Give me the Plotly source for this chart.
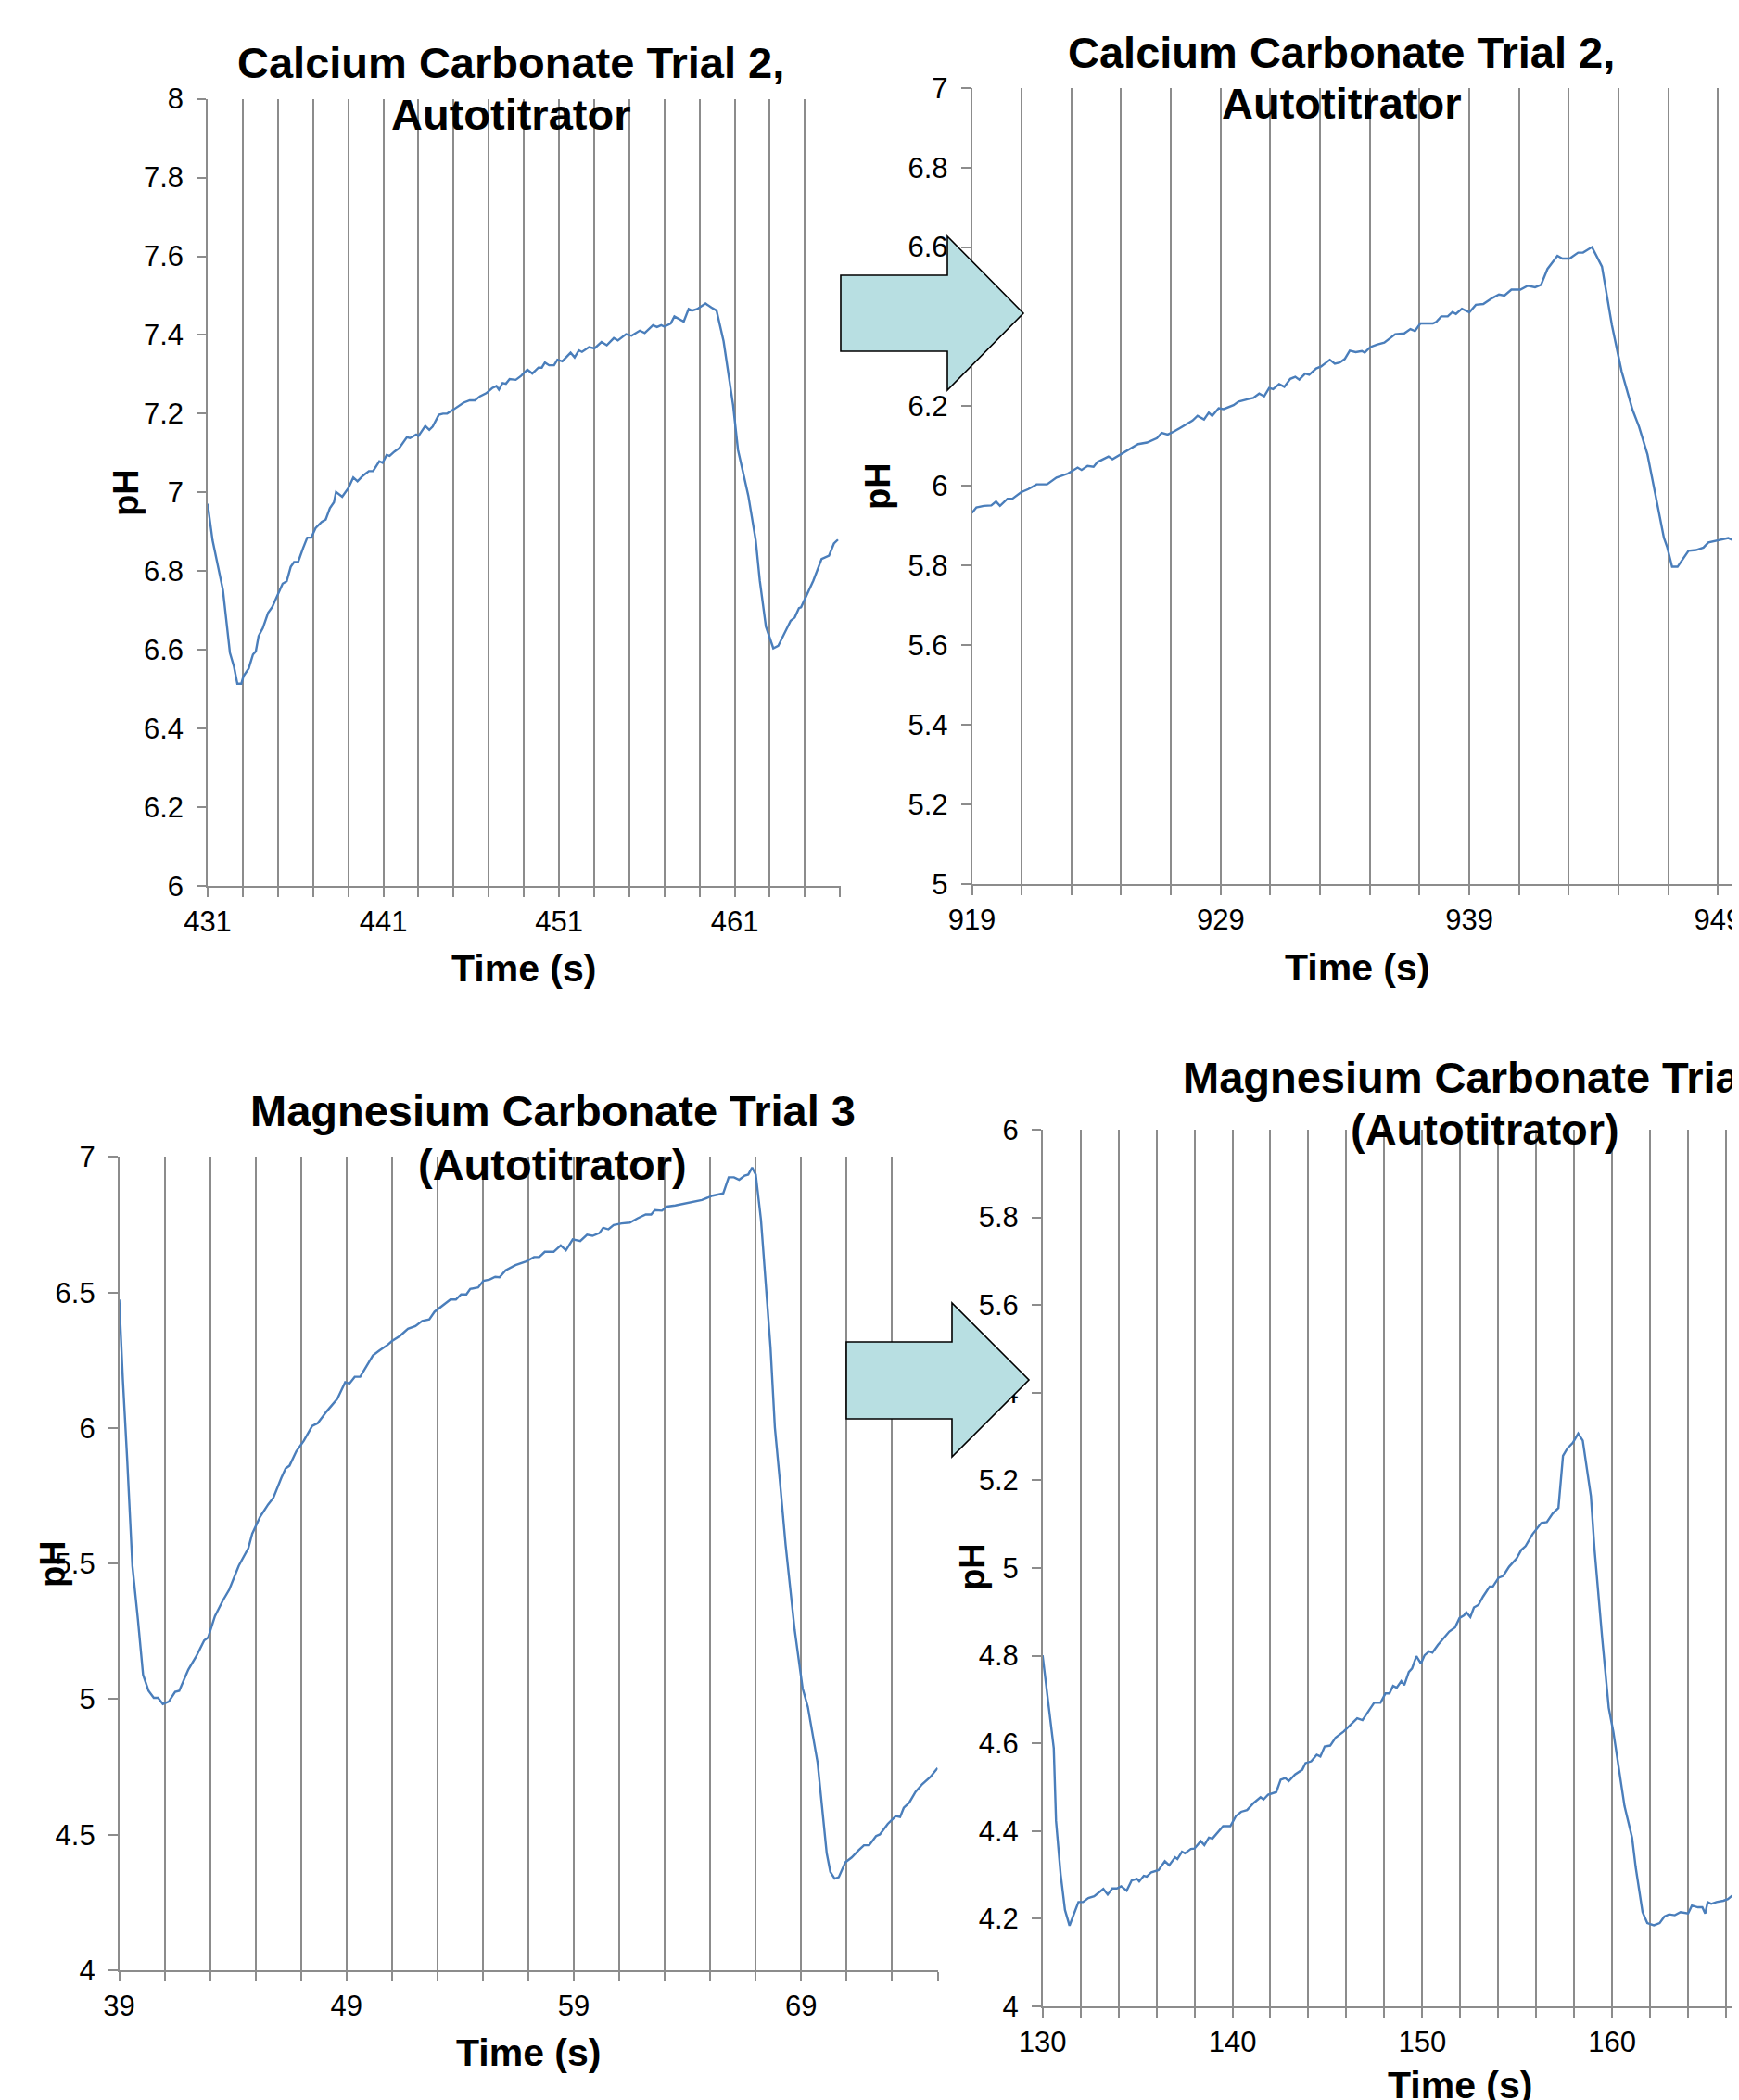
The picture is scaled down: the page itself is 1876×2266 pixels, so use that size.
import plotly.graph_objects as go

# the page body adds an 8 px margin, so the figure is drawn 8 px smaller and
# every reference-pixel position is shifted by that offset
OFFSET = 8
W, H = 1876 - OFFSET, 2266 - OFFSET

# ---------------- data (time s, pH) ----------------
ca_trial2_early = [
    (431, 6.971), (431.28, 6.878), (431.87, 6.752), (432.27, 6.592), (432.5, 6.557), (432.69, 6.514),
    (432.92, 6.514), (433.04, 6.533), (433.34, 6.553), (433.58, 6.588), (433.74, 6.596), (433.9, 6.635),
    (434.14, 6.655), (434.44, 6.694), (434.68, 6.709), (435.03, 6.745), (435.27, 6.768), (435.5, 6.774),
    (435.73, 6.811), (435.92, 6.823), (436.15, 6.823), (436.43, 6.858), (436.67, 6.885), (436.9, 6.885),
    (437.14, 6.909), (437.49, 6.925), (437.72, 6.931), (437.96, 6.960), (438.19, 6.975), (438.31, 7.001),
    (438.66, 6.989), (439.01, 7.011), (439.29, 7.038), (439.53, 7.028), (439.83, 7.042), (440.18, 7.054),
    (440.42, 7.054), (440.77, 7.079), (440.96, 7.075), (441.19, 7.095), (441.36, 7.093), (441.64, 7.104),
    (441.9, 7.112), (442.34, 7.140), (442.52, 7.138), (442.87, 7.147), (443.0, 7.143), (443.39, 7.169),
    (443.62, 7.159), (443.81, 7.167), (444.16, 7.197), (444.4, 7.200), (444.63, 7.200), (444.98, 7.210),
    (445.57, 7.228), (445.92, 7.234), (446.22, 7.234), (446.5, 7.244), (446.86, 7.252), (447.2, 7.265),
    (447.44, 7.270), (447.58, 7.261), (447.79, 7.278), (447.98, 7.276), (448.19, 7.288), (448.54, 7.286),
    (448.84, 7.296), (449.2, 7.312), (449.48, 7.302), (449.83, 7.317), (450.02, 7.317), (450.2, 7.330),
    (450.44, 7.323), (450.72, 7.323), (450.91, 7.337), (451.19, 7.333), (451.66, 7.355), (451.89, 7.343),
    (452.13, 7.361), (452.31, 7.357), (452.71, 7.369), (453.02, 7.366), (453.42, 7.382), (453.72, 7.374),
    (454.12, 7.392), (454.35, 7.386), (454.82, 7.402), (455.13, 7.398), (455.6, 7.411), (455.88, 7.405),
    (456.35, 7.425), (456.58, 7.420), (456.82, 7.425), (457.0, 7.421), (457.36, 7.429), (457.57, 7.447),
    (458.1, 7.434), (458.38, 7.466), (458.57, 7.462), (458.87, 7.466), (459.34, 7.480), (459.67, 7.470),
    (459.97, 7.462), (460.37, 7.384), (460.91, 7.222), (461.19, 7.108), (461.78, 6.991), (462.2, 6.878),
    (462.43, 6.776), (462.78, 6.659), (463.2, 6.604), (463.48, 6.610), (463.84, 6.641), (464.19, 6.674),
    (464.42, 6.682), (464.66, 6.706), (464.78, 6.708), (465.13, 6.741), (465.48, 6.776), (465.95, 6.831),
    (466.37, 6.839), (466.65, 6.870), (466.88, 6.880),
]

ca_trial2_late = [
    (919, 5.932), (919.18, 5.946), (919.48, 5.950), (919.78, 5.951), (919.97, 5.961), (920.13, 5.950),
    (920.43, 5.968), (920.63, 5.968), (920.97, 5.984), (921.27, 5.992), (921.6, 6.004), (922.02, 6.004),
    (922.4, 6.021), (922.86, 6.031), (923.25, 6.046), (923.41, 6.040), (923.65, 6.050), (923.89, 6.048),
    (924.05, 6.060), (924.49, 6.074), (924.65, 6.067), (924.94, 6.078), (925.34, 6.093), (925.68, 6.105),
    (926.04, 6.109), (926.44, 6.120), (926.63, 6.133), (926.87, 6.129), (927.13, 6.137), (927.59, 6.155),
    (927.87, 6.164), (928.07, 6.176), (928.33, 6.167), (928.52, 6.184), (928.66, 6.176), (928.92, 6.195),
    (929.12, 6.193), (929.52, 6.203), (929.72, 6.212), (930.11, 6.218), (930.31, 6.221), (930.55, 6.232),
    (930.75, 6.225), (930.95, 6.246), (931.11, 6.243), (931.35, 6.256), (931.56, 6.249), (931.8, 6.269),
    (932.0, 6.274), (932.16, 6.267), (932.4, 6.282), (932.56, 6.279), (932.84, 6.295), (933.04, 6.300),
    (933.39, 6.317), (933.59, 6.307), (933.79, 6.310), (933.99, 6.319), (934.19, 6.340), (934.43, 6.336),
    (934.68, 6.339), (934.79, 6.335), (935.02, 6.349), (935.28, 6.355), (935.58, 6.360), (936.02, 6.381),
    (936.38, 6.383), (936.63, 6.394), (936.81, 6.389), (937.03, 6.408), (937.53, 6.408), (937.67, 6.412),
    (937.87, 6.426), (938.13, 6.426), (938.32, 6.437), (938.46, 6.432), (938.7, 6.445), (939.0, 6.436),
    (939.26, 6.455), (939.56, 6.457), (939.92, 6.472), (940.19, 6.481), (940.41, 6.478), (940.69, 6.493),
    (941.05, 6.493), (941.35, 6.503), (941.64, 6.499), (941.88, 6.505), (942.14, 6.545), (942.54, 6.578),
    (942.74, 6.571), (943.03, 6.571), (943.37, 6.586), (943.57, 6.586), (943.93, 6.600), (944.33, 6.551),
    (944.73, 6.404), (945.12, 6.288), (945.56, 6.191), (945.82, 6.149), (946.16, 6.079), (946.48, 5.978),
    (946.82, 5.870), (946.95, 5.847), (947.15, 5.797), (947.37, 5.797), (947.81, 5.837), (948.11, 5.839),
    (948.41, 5.845), (948.61, 5.858), (949.01, 5.864), (949.41, 5.869), (949.55, 5.865), (949.86, 5.872),
    (950.2, 5.875),
]

mg_trial3_early = [
    (39, 6.474), (39.16, 6.179), (39.35, 5.885), (39.58, 5.492), (39.82, 5.296), (40.05, 5.090),
    (40.29, 5.031), (40.52, 5.005), (40.71, 5.005), (40.92, 4.982), (41.18, 4.991), (41.46, 5.027),
    (41.64, 5.031), (42.04, 5.109), (42.39, 5.158), (42.74, 5.217), (42.91, 5.227), (43.21, 5.306),
    (43.56, 5.364), (43.84, 5.404), (44.26, 5.492), (44.68, 5.557), (44.85, 5.610), (45.2, 5.673),
    (45.55, 5.718), (45.78, 5.743), (46.13, 5.816), (46.32, 5.851), (46.49, 5.861), (46.79, 5.914),
    (47.12, 5.953), (47.49, 6.008), (47.73, 6.018), (48.12, 6.061), (48.59, 6.107), (48.94, 6.169),
    (49.13, 6.164), (49.36, 6.189), (49.6, 6.189), (49.88, 6.228), (50.16, 6.268), (50.46, 6.287),
    (50.81, 6.307), (51.0, 6.321), (51.35, 6.340), (51.7, 6.366), (52.03, 6.376), (52.33, 6.395),
    (52.64, 6.401), (52.87, 6.429), (53.27, 6.454), (53.57, 6.474), (53.81, 6.474), (54.04, 6.493),
    (54.27, 6.493), (54.44, 6.513), (54.79, 6.519), (55.02, 6.543), (55.3, 6.548), (55.54, 6.558),
    (55.73, 6.556), (56.0, 6.582), (56.43, 6.601), (56.9, 6.615), (57.25, 6.631), (57.48, 6.631),
    (57.72, 6.650), (58.11, 6.650), (58.42, 6.674), (58.65, 6.656), (58.95, 6.696), (59.28, 6.690),
    (59.58, 6.713), (59.82, 6.709), (60.12, 6.719), (60.29, 6.739), (60.52, 6.733), (60.75, 6.749),
    (61.1, 6.755), (61.46, 6.758), (61.81, 6.774), (62.16, 6.788), (62.4, 6.788), (62.56, 6.804),
    (62.87, 6.802), (63.1, 6.817), (63.46, 6.821), (63.81, 6.827), (64.04, 6.833), (64.63, 6.841),
    (65.1, 6.857), (65.57, 6.866), (65.81, 6.925), (66.04, 6.925), (66.27, 6.916), (66.51, 6.931),
    (66.67, 6.935), (66.84, 6.961), (67.0, 6.935), (67.23, 6.768), (67.65, 6.297), (67.84, 6.003),
    (68.08, 5.787), (68.31, 5.571), (68.71, 5.257), (69.06, 5.041), (69.29, 4.972), (69.72, 4.766),
    (70.12, 4.432), (70.28, 4.363), (70.47, 4.338), (70.65, 4.343), (70.94, 4.398), (71.22, 4.416),
    (71.52, 4.442), (71.76, 4.461), (71.99, 4.461), (72.29, 4.495), (72.46, 4.501), (72.81, 4.540),
    (73.16, 4.569), (73.35, 4.565), (73.51, 4.599), (73.75, 4.618), (74.03, 4.658), (74.33, 4.687),
    (74.68, 4.713), (75.0, 4.746),
]

mg_trial3_late = [
    (130, 4.801), (130.24, 4.710), (130.59, 4.589), (130.71, 4.423), (130.95, 4.302), (131.18, 4.220),
    (131.42, 4.184), (131.6, 4.205), (131.89, 4.238), (132.13, 4.238), (132.41, 4.247), (132.72, 4.251),
    (133.2, 4.268), (133.43, 4.255), (133.67, 4.269), (133.91, 4.269), (134.14, 4.274), (134.43, 4.264),
    (134.69, 4.287), (134.97, 4.291), (135.09, 4.285), (135.33, 4.298), (135.49, 4.296), (135.73, 4.306),
    (136.11, 4.311), (136.44, 4.331), (136.67, 4.322), (136.98, 4.340), (137.1, 4.336), (137.34, 4.353),
    (137.5, 4.349), (137.81, 4.359), (138.0, 4.360), (138.33, 4.377), (138.52, 4.368), (138.76, 4.385),
    (138.95, 4.383), (139.51, 4.411), (139.89, 4.411), (140.18, 4.434), (140.46, 4.444), (140.77, 4.448),
    (141.12, 4.464), (141.48, 4.477), (141.64, 4.472), (141.88, 4.483), (142.31, 4.489), (142.54, 4.517),
    (142.78, 4.521), (142.97, 4.514), (143.3, 4.529), (143.68, 4.540), (143.85, 4.555), (144.15, 4.559),
    (144.44, 4.574), (144.63, 4.570), (144.86, 4.593), (145.15, 4.595), (145.43, 4.613), (145.86, 4.627),
    (146.21, 4.642), (146.57, 4.657), (146.85, 4.653), (147.16, 4.674), (147.47, 4.693), (147.8, 4.693),
    (148.06, 4.714), (148.27, 4.714), (148.46, 4.731), (148.65, 4.727), (148.89, 4.742), (149.05, 4.733),
    (149.29, 4.763), (149.46, 4.771), (149.69, 4.799), (149.93, 4.782), (150.12, 4.801), (150.36, 4.810),
    (150.53, 4.807), (150.83, 4.825), (151.18, 4.844), (151.42, 4.855), (151.73, 4.865), (151.96, 4.886),
    (152.2, 4.892), (152.32, 4.899), (152.53, 4.888), (152.72, 4.910), (152.96, 4.916), (153.2, 4.935),
    (153.55, 4.958), (153.72, 4.958), (154.02, 4.978), (154.26, 4.982), (154.57, 5.003), (154.97, 5.022),
    (155.21, 5.041), (155.44, 5.050), (155.8, 5.077), (156.27, 5.103), (156.56, 5.105), (156.86, 5.124),
    (157.17, 5.137), (157.41, 5.256), (157.64, 5.273), (157.93, 5.286), (158.21, 5.307), (158.45, 5.291),
    (158.88, 5.164), (159.07, 5.043), (159.47, 4.842), (159.82, 4.681), (160.06, 4.627), (160.3, 4.555),
    (160.65, 4.457), (161.05, 4.385), (161.24, 4.317), (161.6, 4.215), (161.85, 4.190), (162.2, 4.185),
    (162.5, 4.190), (162.75, 4.205), (163.0, 4.210), (163.3, 4.208), (163.6, 4.215), (164.0, 4.212),
    (164.2, 4.230), (164.51, 4.226), (164.75, 4.226), (164.9, 4.212), (165.03, 4.238), (165.22, 4.234),
    (165.5, 4.238), (165.86, 4.241), (166.1, 4.245), (166.45, 4.257), (166.64, 4.260), (167.0, 4.265),
]

titles = [
    ["Calcium Carbonate Trial 2,", "Autotitrator"],
    ["Calcium Carbonate Trial 2,", "Autotitrator"],
    ["Magnesium Carbonate Trial 3", "(Autotitrator)"],
    ["Magnesium Carbonate Trial 3", "(Autotitrator)"],
]
x_axis_title = "Time (s)"
y_axis_title = "pH"

x_ranges = [(431, 467.04), (919, 949.84), (39, 75.0), (130, 166.68)]
x_tick_step = 2
x_label_every = 10
x_tick_ends = [467, 949, 75, 166]

y_tick_labels = [
    ["6", "6.2", "6.4", "6.6", "6.8", "7", "7.2", "7.4", "7.6", "7.8", "8"],
    ["5", "5.2", "5.4", "5.6", "5.8", "6", "6.2", "6.4", "6.6", "6.8", "7"],
    ["4", "4.5", "5", "5.5", "6", "6.5", "7"],
    ["4", "4.2", "4.4", "4.6", "4.8", "5", "5.2", "5.4", "5.6", "5.8", "6"],
]

series = [ca_trial2_early, ca_trial2_late, mg_trial3_early, mg_trial3_late]

# ---------------- layout geometry (reference pixels) ----------------
plot_boxes = [  # left, right, top, bottom
    (224, 907, 106.6, 956),
    (1048.5, 1876, 94.7, 954),
    (128.6, 1011.5, 1248.4, 2126),
    (1124.7, 1876, 1219, 2165),
]
title_pos = [  # x center, line1 y, line2 y
    (551, 68, 123.5),
    (1447, 56.8, 111),
    (596, 1198.5, 1256),
    (1602, 1162, 1218),
]
xtitle_pos = [(565, 1045), (1464, 1043.5), (570, 2215), (1575, 2250)]
ytitle_pos = [(136, 532), (947, 525), (57, 1688), (1049, 1691)]

FONT = "Liberation Sans, Arial, sans-serif"
LINE_COLOR = "#4A7EBB"
GRID_COLOR = "#8C8C8C"
AXIS_COLOR = "#8C8C8C"


def px(x):
    return (x - OFFSET) / W


def py(y):
    return 1 - (y - OFFSET) / H


fig = go.Figure()
layout = dict(
    template="none",
    width=W, height=H,
    margin=dict(l=0, r=0, t=0, b=0, pad=0, autoexpand=False),
    paper_bgcolor="white", plot_bgcolor="white",
    showlegend=False,
    font=dict(family=FONT, color="black"),
)
annotations = []

for i, data in enumerate(series):
    n = i + 1
    xs = [p[0] for p in data]
    ys = [p[1] for p in data]
    fig.add_trace(go.Scatter(
        x=xs, y=ys, mode="lines",
        line=dict(color=LINE_COLOR, width=2.4),
        xaxis=f"x{n}", yaxis=f"y{n}", hoverinfo="skip",
    ))
    l, r, t, b = plot_boxes[i]
    x0 = x_ranges[i][0]
    tickvals = list(range(int(x0), x_tick_ends[i] + 1, x_tick_step))
    ticktext = [str(v) if (v - x0) % x_label_every == 0 else "" for v in tickvals]
    ylabels = y_tick_labels[i]
    yvals = [float(s) for s in ylabels]
    layout[f"xaxis{n}"] = dict(
        domain=[max(px(l), 0), min(px(r), 1)], range=list(x_ranges[i]), anchor=f"y{n}",
        automargin=False, ticklabeloverflow="allow",
        tickmode="array", tickvals=tickvals, ticktext=ticktext,
        showgrid=True, gridcolor=GRID_COLOR, gridwidth=1.5,
        showline=True, linecolor=AXIS_COLOR, linewidth=1.5,
        ticks="outside", ticklen=10, tickwidth=1.5, tickcolor=AXIS_COLOR,
        tickfont=dict(family=FONT, size=31, color="black"),
        zeroline=False, fixedrange=True,
    )
    layout[f"yaxis{n}"] = dict(
        domain=[py(b), py(t)], range=[yvals[0] - 0.0001, yvals[-1] + 0.0001], anchor=f"x{n}",
        automargin=False, ticklabeloverflow="allow", ticklabelstandoff=8,
        tickmode="array", tickvals=yvals, ticktext=ylabels,
        showgrid=False,
        showline=True, linecolor=AXIS_COLOR, linewidth=1.5,
        ticks="outside", ticklen=10, tickwidth=1.5, tickcolor=AXIS_COLOR,
        tickfont=dict(family=FONT, size=31, color="black"),
        zeroline=False, fixedrange=True,
    )
    tx, ty1, ty2 = title_pos[i]
    for txt, yy in ((titles[i][0], ty1), (titles[i][1], ty2)):
        annotations.append(dict(
            text=f"<b>{txt}</b>", x=px(tx), y=py(yy), xref="paper", yref="paper",
            xanchor="center", yanchor="middle", showarrow=False,
            font=dict(family=FONT, size=47, color="black"),
        ))
    annotations.append(dict(
        text=f"<b>{x_axis_title}</b>", x=px(xtitle_pos[i][0]), y=py(xtitle_pos[i][1]),
        xref="paper", yref="paper", xanchor="center", yanchor="middle", showarrow=False,
        font=dict(family=FONT, size=41, color="black"),
    ))
    annotations.append(dict(
        text=f"<b>{y_axis_title}</b>", x=px(ytitle_pos[i][0]), y=py(ytitle_pos[i][1]),
        xref="paper", yref="paper", xanchor="center", yanchor="middle", showarrow=False,
        textangle=-90, font=dict(family=FONT, size=38, color="black"),
    ))

# block arrows between the paired charts (reference-pixel outlines)
arrow_outlines = [
    [(907, 297), (1022, 297), (1022, 255), (1104, 338), (1022, 421), (1022, 379), (907, 379)],
    [(913, 1448), (1027, 1448), (1027, 1406), (1110, 1489), (1027, 1572), (1027, 1531), (913, 1531)],
]
shapes = []
for pts in arrow_outlines:
    path = "M " + " L ".join(f"{px(x):.5f},{py(y):.5f}" for x, y in pts) + " Z"
    shapes.append(dict(
        type="path", path=path, xref="paper", yref="paper", layer="above",
        fillcolor="#B8DFE2", line=dict(color="black", width=1.6),
    ))

layout["annotations"] = annotations
layout["shapes"] = shapes
fig.update_layout(**layout)
fig.write_html("out.html")
